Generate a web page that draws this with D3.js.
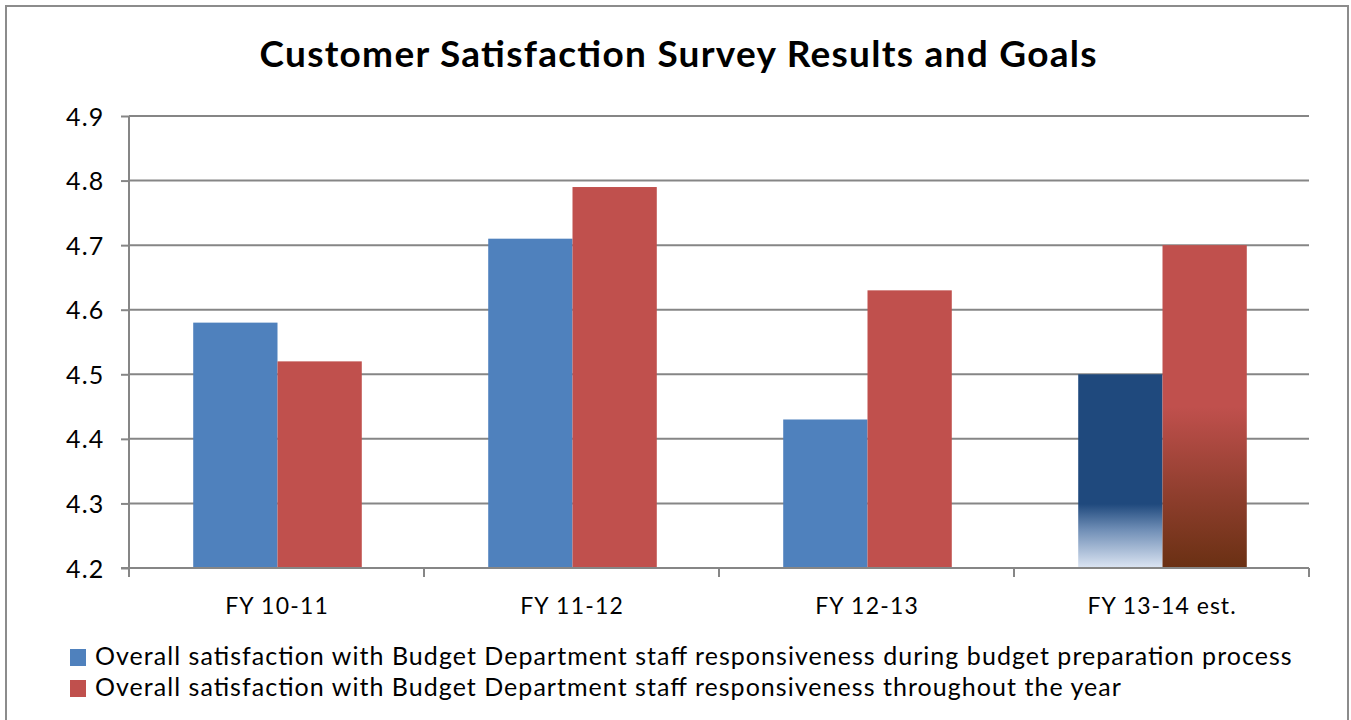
<!DOCTYPE html>
<html>
<head>
<meta charset="utf-8">
<script src="https://cdn.jsdelivr.net/npm/d3@7"></script>
<style>
html,body{margin:0;padding:0;background:#fff;}
svg{display:block;}
text{font-family:Lato,"Open Sans",sans-serif;fill:#000;}
</style>
</head>
<body>
<svg id="chart" width="1351" height="720"></svg>
<script>
const title = "Customer Satisfaction Survey Results and Goals";
const categories = ["FY 10-11", "FY 11-12", "FY 12-13", "FY 13-14 est."];
const seriesNames = [
  "Overall satisfaction with Budget Department staff responsiveness during budget preparation process",
  "Overall satisfaction with Budget Department staff responsiveness throughout the year"
];
const seriesA = [4.58, 4.71, 4.43, 4.50];
const seriesB = [4.52, 4.79, 4.63, 4.70];
const yTicks = [4.2, 4.3, 4.4, 4.5, 4.6, 4.7, 4.8, 4.9];
const estimateFlags = [false, false, false, true];

const colors = ["#4F81BD", "#C0504D"];

(function () {
const svg = d3.select("#chart");
const pLeft = 129, pRight = 1309, pTop = 116, pBottom = 568;

// widen Lato text to approximate Calibri metrics
function widen(sel, f) {
  sel.each(function () {
    const n = this.getComputedTextLength();
    d3.select(this).attr("textLength", n * f).attr("lengthAdjust", "spacing");
  });
}

// outer border
svg.append("rect").attr("x", 6).attr("y", 6).attr("width", 1342).attr("height", 740)
  .attr("fill", "#fff").attr("stroke", "#8c8c8c").attr("stroke-width", 2);

const defs = svg.append("defs");
const gA = defs.append("linearGradient").attr("id", "gradA").attr("x1", 0).attr("y1", 0).attr("x2", 0).attr("y2", 1);
gA.append("stop").attr("offset", "0%").attr("stop-color", "#1F497D");
gA.append("stop").attr("offset", "67%").attr("stop-color", "#1F497D");
gA.append("stop").attr("offset", "80%").attr("stop-color", "#6E8DB5");
gA.append("stop").attr("offset", "100%").attr("stop-color", "#DCE5F3");
const gB = defs.append("linearGradient").attr("id", "gradB").attr("x1", 0).attr("y1", 0).attr("x2", 0).attr("y2", 1);
gB.append("stop").attr("offset", "0%").attr("stop-color", "#C0504D");
gB.append("stop").attr("offset", "50%").attr("stop-color", "#C0504D");
gB.append("stop").attr("offset", "76%").attr("stop-color", "#913F2F");
gB.append("stop").attr("offset", "100%").attr("stop-color", "#6A3013");

const x = d3.scaleBand().domain(categories).range([pLeft, pRight]).paddingInner(0).paddingOuter(0);
const y = d3.scaleLinear().domain([4.2, 4.9]).range([pBottom, pTop]);

// gridlines
svg.append("g").selectAll("line").data(yTicks.slice(1)).join("line")
  .attr("x1", pLeft).attr("x2", pRight)
  .attr("y1", d => y(d)).attr("y2", d => y(d))
  .attr("stroke", "#868686").attr("stroke-width", 2);

// title
const t = svg.append("text").attr("x", 678).attr("y", 67).attr("text-anchor", "middle")
  .attr("font-size", 37).attr("font-weight", "bold").text(title);
widen(t, 1.07);

// bars
const bw = x.bandwidth() / 3.5;
const groups = svg.append("g").selectAll("g").data(categories).join("g");
groups.each(function(c, i) {
  const g = d3.select(this);
  const x0 = x(c) + 0.75 * bw + 1;
  const vals = [seriesA[i], seriesB[i]];
  vals.forEach((v, s) => {
    const fill = estimateFlags[i] ? (s === 0 ? "url(#gradA)" : "url(#gradB)") : colors[s];
    g.append("rect")
      .attr("x", x0 + s * bw).attr("width", bw)
      .attr("y", y(v)).attr("height", y(4.2) - y(v))
      .attr("fill", fill);
  });
});

// y axis
const yAxis = d3.axisLeft(y).tickValues(yTicks).tickSize(8).tickPadding(27).tickFormat(d3.format(".1f"));
const ya = svg.append("g").attr("transform", `translate(${pLeft},0)`).call(yAxis);
ya.select(".domain").attr("stroke", "#868686").attr("stroke-width", 2).attr("d", `M0,${pTop}V${pBottom + 6}`);
ya.selectAll(".tick line").attr("stroke", "#868686").attr("stroke-width", 2);
ya.selectAll(".tick text").attr("font-size", 25).attr("font-family", "Lato, sans-serif")
  .attr("fill", "#000").attr("dy", "0.36em").attr("text-anchor", "start").attr("x", -63);
widen(ya.selectAll(".tick text"), 1.07);

// x axis
const xa = svg.append("g").attr("transform", `translate(0,${pBottom})`);
xa.append("line").attr("x1", pLeft - 8).attr("x2", pRight).attr("y1", 0).attr("y2", 0)
  .attr("stroke", "#868686").attr("stroke-width", 2);
const bounds = categories.map(c => x(c)).concat([pRight]);
xa.selectAll("line.tk").data(bounds).join("line").attr("class", "tk")
  .attr("x1", d => d).attr("x2", d => d).attr("y1", 0).attr("y2", 9)
  .attr("stroke", "#868686").attr("stroke-width", 2);
const xl = xa.selectAll("text").data(categories).join("text")
  .attr("x", d => x(d) + x.bandwidth() / 2).attr("y", 46)
  .attr("text-anchor", "middle").attr("font-size", 23).text(d => d);
widen(xl, 1.09);

// legend
const leg = svg.append("g");
seriesNames.forEach((n, i) => {
  const yy = 657 + i * 31;
  leg.append("rect").attr("x", 70).attr("y", yy - 8).attr("width", 16).attr("height", 17).attr("fill", colors[i]);
  const lt = leg.append("text").attr("x", 95).attr("y", yy + 8).attr("font-size", 25).text(n);
  widen(lt, 1.088);
});
})();
</script>
</body>
</html>
